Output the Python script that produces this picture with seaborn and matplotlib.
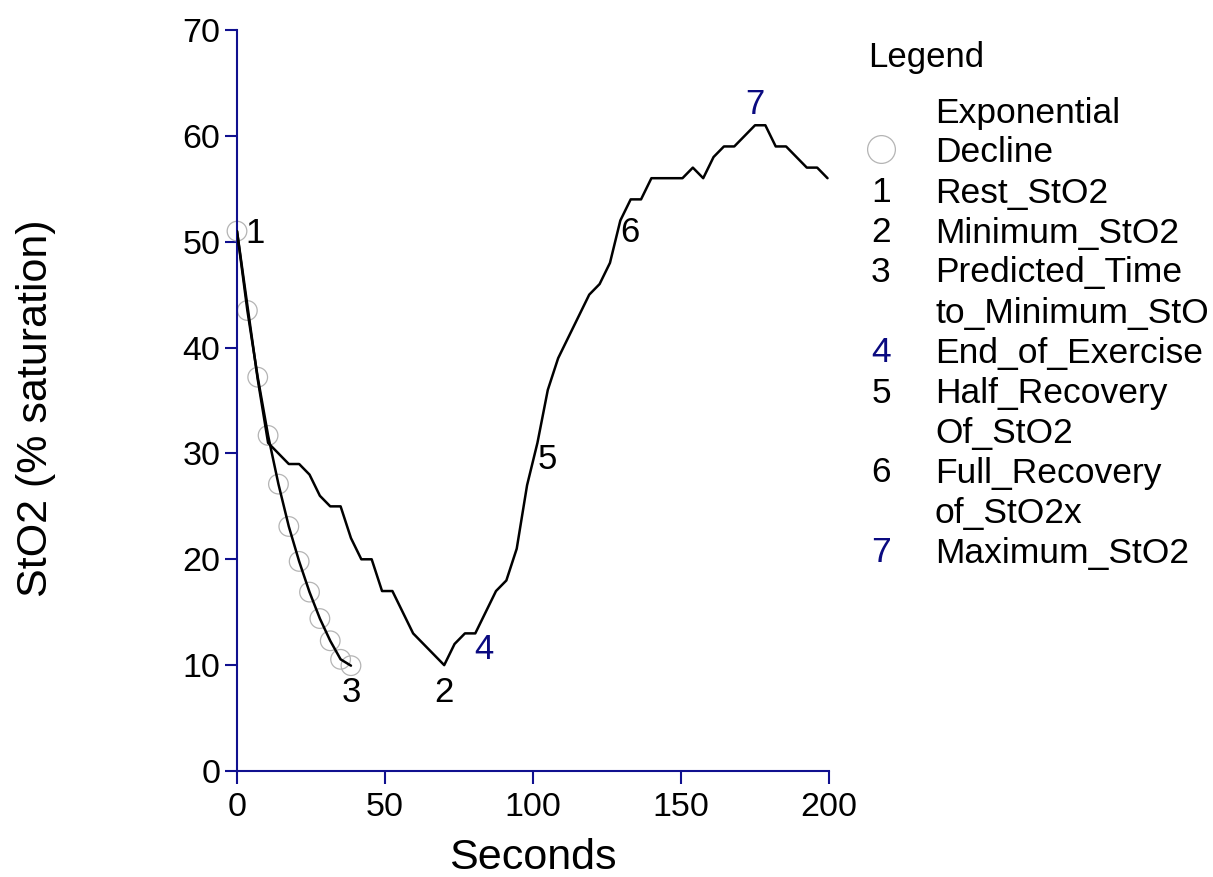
import numpy as np
import pandas as pd
import matplotlib
matplotlib.use("Agg")
import matplotlib.pyplot as plt
import seaborn as sns
from matplotlib.lines import Line2D

# --- data ---
seconds = [0, 3.5, 7, 10.5, 14, 17.5, 21, 24.5, 28, 31.5, 35, 38.5, 42, 45.5,
           49, 52.5, 56, 59.5, 63, 66.5, 70, 73.5, 77, 80.5, 84, 87.5, 91, 94.5,
           98, 101.5, 105, 108.5, 112, 115.5, 119, 122.5, 126, 129.5, 133, 136.5,
           140, 143.5, 147, 150.5, 154, 157.5, 161, 164.5, 168, 171.5, 175, 178.5,
           182, 185.5, 189, 192.5, 196, 199.5]
sto2 = [51, 44, 37, 31, 30, 29, 29, 28, 26, 25, 25, 22, 20, 20,
        17, 17, 15, 13, 12, 11, 10, 12, 13, 13, 15, 17, 18, 21,
        27, 31, 36, 39, 41, 43, 45, 46, 48, 52, 54, 54,
        56, 56, 56, 56, 57, 56, 58, 59, 59, 60, 61, 61,
        59, 59, 58, 57, 57, 56]

fit_seconds = [0, 3.5, 7, 10.5, 14, 17.5, 21, 24.5, 28, 31.5, 35, 38.5]
fit_sto2 = [51, 43.5, 37.2, 31.7, 27.1, 23.1, 19.8, 16.9, 14.4, 12.3, 10.55, 9.95]

# event markers: number, time, value
event_ids = ["1", "2", "3", "4", "5", "6", "7"]
event_t = [0, 70, 38.5, 80.5, 101.5, 129.5, 175]
event_v = [51, 10, 10, 13, 31, 52, 61]

legend_keys = ["", "", "1", "2", "3", "", "4", "5", "", "6", "", "7"]
legend_text = ["Exponential", "Decline", "Rest_StO2", "Minimum_StO2",
               "Predicted_Time", "to_Minimum_StO", "End_of_Exercise",
               "Half_Recovery", "Of_StO2", "Full_Recovery", "of_StO2x",
               "Maximum_StO2"]

navy = "#10108f"
navy_txt = "#0a0a80"

sns.set_style("white")
plt.rcParams["font.family"] = ["Liberation Sans", "DejaVu Sans"]
plt.rcParams["text.color"] = "black"
plt.rcParams["axes.labelcolor"] = "black"

W, H = 1213, 877
fig = plt.figure(figsize=(W / 100, H / 100), dpi=100)
ax = fig.add_axes([237 / W, 1 - 771 / H, (829 - 237) / W, (771 - 30) / H])

df = pd.DataFrame({"Seconds": seconds, "StO2": sto2})
fit = pd.DataFrame({"Seconds": fit_seconds, "StO2": fit_sto2})

sns.scatterplot(data=fit, x="Seconds", y="StO2", ax=ax, s=200, marker="o",
                facecolor="none", edgecolor="#b4b4b4", linewidth=0.9,
                zorder=2, clip_on=False)
sns.lineplot(data=fit, x="Seconds", y="StO2", ax=ax, color="black",
             linewidth=1.8, zorder=3)
sns.lineplot(data=df, x="Seconds", y="StO2", ax=ax, color="black",
             linewidth=1.8, zorder=3)

# event number labels
label_style = {
    "1": dict(xytext=(6, -2), ha="left", va="center"),
    "2": dict(xytext=(0, -8), ha="center", va="top"),
    "3": dict(xytext=(0, -8), ha="center", va="top"),
    "4": dict(xytext=(-1, 0), ha="left", va="top"),
    "5": dict(xytext=(0, 0), ha="left", va="top"),
    "6": dict(xytext=(0, 3), ha="left", va="top"),
    "7": dict(xytext=(0, 3), ha="center", va="bottom"),
}
for eid, t, v in zip(event_ids, event_t, event_v):
    col = navy_txt if eid in ("4", "7") else "black"
    ax.annotate(eid, (t, v), textcoords="offset points", fontsize=25,
                color=col, annotation_clip=False, **label_style[eid])

ax.set_xlim(0, 200)
ax.set_ylim(0, 70)
ax.set_xticks([0, 50, 100, 150, 200])
ax.set_yticks([0, 10, 20, 30, 40, 50, 60, 70])
for side in ("top", "right"):
    ax.spines[side].set_visible(False)
for side in ("left", "bottom"):
    ax.spines[side].set_color(navy)
    ax.spines[side].set_linewidth(1.5)
ax.tick_params(axis="both", direction="out", length=9, width=1.5,
               color=navy, labelcolor="black", labelsize=24.5,
               bottom=True, left=True)
ax.tick_params(axis="y", pad=3)
ax.tick_params(axis="x", pad=6)
ax.set_xlabel("Seconds", fontsize=31, color="black")
ax.set_ylabel("StO2 (% saturation)", fontsize=31, color="black")
ax.xaxis.set_label_coords(0.5, -0.09)
ax.yaxis.set_label_coords(-0.306, 0.49)

# legend drawn as figure text
fig.text(868 / W, 1 - 67 / H, "Legend", fontsize=25, ha="left", va="baseline",
         color="black")
for i, (k, txt) in enumerate(zip(legend_keys, legend_text)):
    yb = 1 - (122.5 + 40 * i) / H
    fig.text(935 / W, yb, txt, fontsize=25.5, ha="left", va="baseline",
             color="black")
    if k:
        col = navy_txt if k in ("4", "7") else "black"
        fig.text(881 / W, yb, k, fontsize=25.5, ha="center", va="baseline",
                 color=col)
fig.add_artist(Line2D([881 / W], [1 - 149 / H], marker="o", markersize=20,
                      markerfacecolor="none", markeredgecolor="#b4b4b4",
                      markeredgewidth=0.9, transform=fig.transFigure))

fig.savefig("out.png", dpi=100)
